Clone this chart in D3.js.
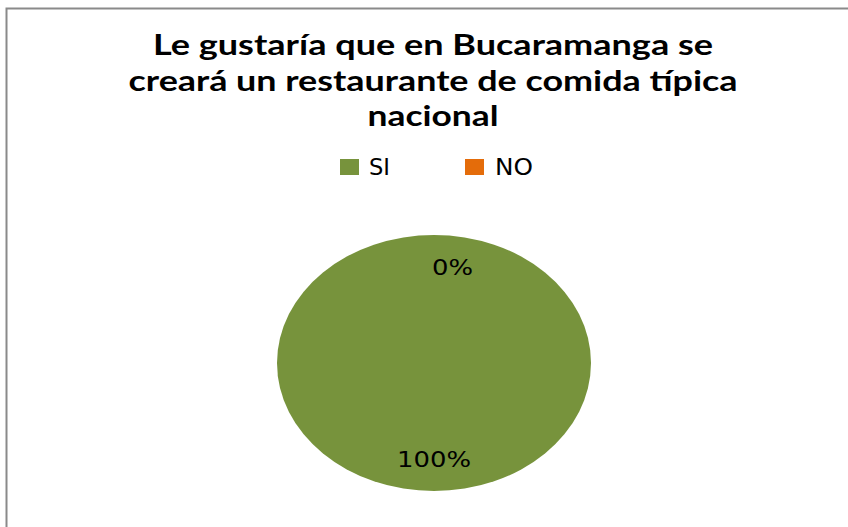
<!DOCTYPE html>
<html><head><meta charset="utf-8">
<script src="https://cdn.jsdelivr.net/npm/d3@7"></script>
<style>body{margin:0;background:#fff}svg{display:block}</style>
</head><body>
<svg id="c" width="848" height="527"></svg>
<script>
const titleLines = ["Le gustaría que en Bucaramanga se", "creará un restaurante de comida típica", "nacional"];
const categories = ["SI", "NO"];
const values = [100, 0];
const colors = ["#77933C", "#E46C0A"];

const svg = d3.select("#c");
const W = 848, H = 527;
svg.append("rect").attr("width", W).attr("height", H).attr("fill", "#fff");
svg.append("rect").attr("x", 6.5).attr("y", 8.5).attr("width", 900).attr("height", 600)
  .attr("fill", "none").attr("stroke", "#8a8a8a").attr("stroke-width", 2);

// Title
const tl = [{y: 55, w: 560}, {y: 91, w: 609}, {y: 126, w: 131}];
svg.append("g").selectAll("text").data(titleLines).join("text")
  .attr("x", 433).attr("y", (d, i) => tl[i].y)
  .attr("text-anchor", "middle")
  .attr("font-family", "Lato, 'Open Sans', sans-serif").attr("font-weight", "bold")
  .attr("font-size", 29).attr("fill", "#000")
  .attr("textLength", (d, i) => tl[i].w).attr("lengthAdjust", "spacingAndGlyphs")
  .text(d => d);

// Legend
const leg = [{sx: 340, tx: 369, tw: 21}, {sx: 465, tx: 495, tw: 38}];
const lg = svg.append("g");
lg.selectAll("rect").data(categories).join("rect")
  .attr("x", (d, i) => leg[i].sx).attr("y", 159).attr("width", 19).attr("height", 16)
  .attr("fill", (d, i) => colors[i]);
lg.selectAll("text").data(categories).join("text")
  .attr("x", (d, i) => leg[i].tx).attr("y", 175)
  .attr("font-family", "'DejaVu Sans', Verdana, sans-serif").attr("font-size", 23).attr("fill", "#000")
  .attr("textLength", (d, i) => leg[i].tw).attr("lengthAdjust", "spacingAndGlyphs")
  .text(d => d);

// Pie (elliptical, as in the reference)
const cx = 434, cy = 363, ry = 128, rx = 157, sx = rx / ry;
const pie = d3.pie().sort(null).value(d => d)(values);
const arc = d3.arc().innerRadius(0).outerRadius(ry);
const labelArc = d3.arc().innerRadius(96).outerRadius(96);
const pg = svg.append("g").attr("transform", `translate(${cx},${cy}) scale(${sx},1)`);
pg.selectAll("path").data(pie).join("path")
  .attr("d", arc).attr("fill", (d, i) => colors[i]);

const total = d3.sum(values);
const lab = svg.append("g").attr("transform", `translate(${cx},${cy})`);
lab.selectAll("text").data(pie).join("text")
  .attr("x", d => labelArc.centroid(d)[0] * sx - (d.value === 0 ? 2 : 0))
  .attr("y", d => labelArc.centroid(d)[1] + 8)
  .attr("text-anchor", d => d.value === 0 ? "start" : "middle")
  .attr("font-family", "'DejaVu Sans', Verdana, sans-serif").attr("font-size", 22).attr("fill", "#000")
  .attr("textLength", d => d.value === 0 ? 41 : 74).attr("lengthAdjust", "spacingAndGlyphs")
  .text(d => Math.round(d.value / total * 100) + "%");
</script>
</body></html>
